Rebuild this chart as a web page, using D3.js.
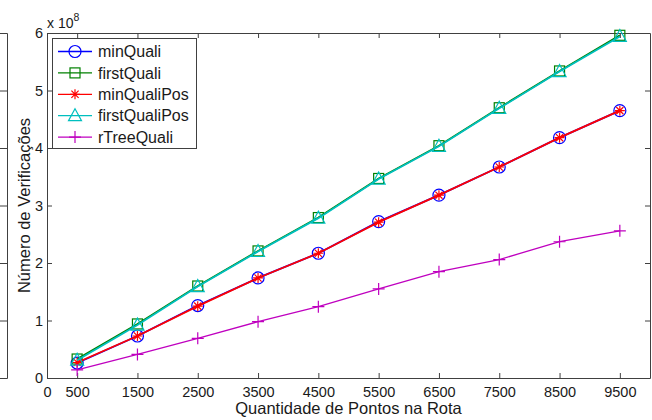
<!DOCTYPE html>
<html>
<head>
<meta charset="utf-8">
<script src="https://cdn.jsdelivr.net/npm/d3@7"></script>
<style>
body { margin: 0; background: #fff; }
svg text { font-family: "Liberation Sans", Arial, Helvetica, sans-serif; fill: #1a1a1a; }
</style>
</head>
<body>
<div id="chart"></div>
<script>
const pontos = [500, 1500, 2500, 3500, 4500, 5500, 6500, 7500, 8500, 9500]
const xTicks = [0, 500, 1500, 2500, 3500, 4500, 5500, 6500, 7500, 8500, 9500]
const yTicks = [0, 1, 2, 3, 4, 5, 6]

// values in units of 1e8
const minQuali = [0.26, 0.73, 1.26, 1.74, 2.17, 2.72, 3.18, 3.67, 4.18, 4.65]
const firstQuali = [0.33, 0.94, 1.60, 2.21, 2.79, 3.47, 4.04, 4.70, 5.34, 5.96]
const minQualiPos = [0.27, 0.73, 1.25, 1.74, 2.17, 2.71, 3.18, 3.67, 4.18, 4.65]
const firstQualiPos = [0.31, 0.92, 1.59, 2.20, 2.78, 3.46, 4.03, 4.69, 5.33, 5.94]
const rTreeQuali = [0.14, 0.41, 0.69, 0.98, 1.24, 1.55, 1.85, 2.06, 2.37, 2.56]

const series = [
    { name: "minQuali", values: minQuali, color: "#0000ff", marker: "circle" },
    { name: "firstQuali", values: firstQuali, color: "#008000", marker: "square" },
    { name: "minQualiPos", values: minQualiPos, color: "#ff0000", marker: "star" },
    { name: "firstQualiPos", values: firstQualiPos, color: "#00bfbf", marker: "triangle" },
    { name: "rTreeQuali", values: rTreeQuali, color: "#bf00bf", marker: "plus" }
]

const width = 652, height = 420
const mLeft = 47, mRight = 650, mTop = 33, mBottom = 378
const axisColor = "#404040"

const svg = d3.select("#chart").append("svg")
    .attr("width", width)
    .attr("height", height)

const x = d3.scaleLinear([0, 10000], [mLeft, mRight])
const y = d3.scaleLinear([0, 6], [mBottom, mTop])

// remains of a neighbouring plot at the left edge
const ghost = svg.append("g").attr("stroke", axisColor).attr("fill", "none")
ghost.append("path").attr("d", `M0,${mTop + 0.5}H7.5V${mBottom + 0.5}H0`)
yTicks.forEach(t => {
    if (t > 0 && t < 6) ghost.append("line").attr("x1", 0).attr("x2", 7).attr("y1", y(t) + 0.5).attr("y2", y(t) + 0.5)
})

// axes, MATLAB style ticks pointing inward
const fmt = d3.format("d")
const xAxisB = d3.axisBottom(x).tickValues(xTicks).tickFormat(fmt).tickSizeInner(-5).tickSizeOuter(0).tickPadding(9)
const xAxisT = d3.axisTop(x).tickValues(xTicks).tickSizeInner(-5).tickSizeOuter(0).tickFormat("")
const yAxisL = d3.axisLeft(y).tickValues(yTicks).tickFormat(fmt).tickSizeInner(-5).tickSizeOuter(0).tickPadding(4)
const yAxisR = d3.axisRight(y).tickValues(yTicks).tickSizeInner(-5).tickSizeOuter(0).tickFormat("")

function styleAxis(g) {
    g.selectAll("path, line").attr("stroke", axisColor)
    g.selectAll("text").attr("font-size", 14.5).attr("fill", "#1a1a1a")
        .attr("font-family", "'Liberation Sans', Arial, sans-serif")
}

svg.append("g").attr("transform", `translate(0,${mBottom})`).call(xAxisB).call(styleAxis)
svg.append("g").attr("transform", `translate(0,${mTop})`).call(xAxisT).call(styleAxis)
svg.append("g").attr("transform", `translate(${mLeft},0)`).call(yAxisL).call(styleAxis)
svg.append("g").attr("transform", `translate(${mRight},0)`).call(yAxisR).call(styleAxis)

// exponent label
const expo = svg.append("text").attr("x", mLeft).attr("y", 28).attr("font-size", 14)
expo.append("tspan").text("x 10")
expo.append("tspan").attr("dy", -7).attr("font-size", 10.5).text("8")

svg.append("text")
    .attr("x", (mLeft + mRight) / 2).attr("y", 414)
    .attr("text-anchor", "middle").attr("font-size", 16.5)
    .text("Quantidade de Pontos na Rota")

svg.append("text")
    .attr("transform", `translate(30,${(mTop + mBottom) / 2}) rotate(-90)`)
    .attr("text-anchor", "middle").attr("font-size", 16.5)
    .text("Número de Verificações")

function drawMarker(g, kind, cx, cy, color) {
    const s = g.append("g").attr("transform", `translate(${cx},${cy})`)
        .attr("stroke", color).attr("fill", "none").attr("stroke-width", 1.2)
    if (kind === "circle") s.append("circle").attr("r", 6)
    if (kind === "square") s.append("rect").attr("x", -5).attr("y", -5).attr("width", 10).attr("height", 10)
    if (kind === "triangle") s.append("path").attr("d", "M0,-7L6.5,5L-6.5,5Z")
    if (kind === "plus") s.append("path").attr("d", "M-6,0H6M0,-6V6")
    if (kind === "star") s.append("path").attr("d", "M-5,0H5M0,-5V5M-3.6,-3.6L3.6,3.6M-3.6,3.6L3.6,-3.6")
}

const line = d3.line().x(d => x(d[0])).y(d => y(d[1]))

series.forEach(s => {
    const pts = pontos.map((p, i) => [p, s.values[i]])
    svg.append("path").datum(pts)
        .attr("d", line)
        .attr("fill", "none")
        .attr("stroke", s.color)
        .attr("stroke-width", s.marker === "plus" ? 1.3 : 1.8)
    const mg = svg.append("g")
    pts.forEach(d => drawMarker(mg, s.marker, x(d[0]), y(d[1]), s.color))
})

// legend
const lg = svg.append("g")
lg.append("rect").attr("x", 52.5).attr("y", 38.5).attr("width", 144).attr("height", 110)
    .attr("fill", "#fff").attr("stroke", axisColor)
series.forEach((s, i) => {
    const ly = 51.5 + i * 21.4
    lg.append("line").attr("x1", 58).attr("x2", 92).attr("y1", ly).attr("y2", ly)
        .attr("stroke", s.color).attr("stroke-width", 1.3)
    drawMarker(lg, s.marker, 75, ly, s.color)
    lg.append("text").attr("x", 98).attr("y", ly + 5.7).attr("font-size", 16).text(s.name)
})
</script>
</body>
</html>
